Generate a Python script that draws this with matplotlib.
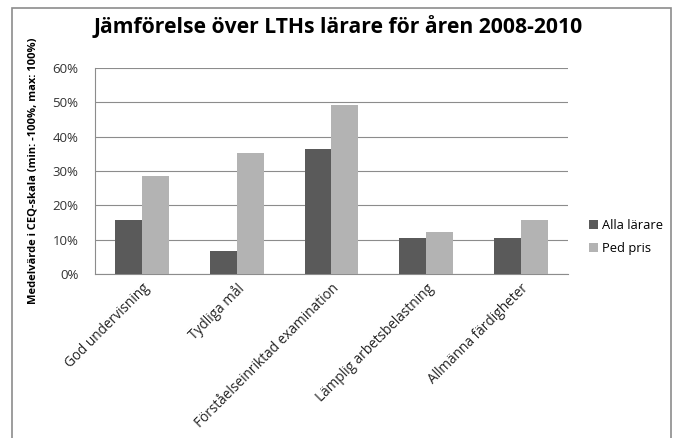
import numpy as np
import matplotlib.pyplot as plt
from matplotlib.patches import Rectangle

categories = ["God undervisning", "Tydliga mål", "Förståelseinriktad examination",
              "Lämplig arbetsbelastning", "Allmänna färdigheter"]
alla_larare = [15.8, 6.8, 36.3, 10.4, 10.6]
ped_pris = [28.5, 35.2, 49.3, 12.1, 15.6]
yticks = [0, 10, 20, 30, 40, 50, 60]

plt.rcParams['font.family'] = ['Open Sans', 'DejaVu Sans']

fig = plt.figure(figsize=(6.73, 4.38), dpi=100)
# outer chart frame
fig.patches.append(Rectangle((12 / 673, -0.01), 659 / 673, (438 - 8) / 438 + 0.01,
                             transform=fig.transFigure, fill=False,
                             edgecolor='#8c8c8c', linewidth=1.2))

ax = fig.add_axes([95 / 673, 1 - 274 / 438, (568 - 95) / 673, (274 - 68) / 438])

x = np.arange(len(categories))
w = 0.285
ax.bar(x - w / 2, alla_larare, w, color='#5a5a5a', label='Alla lärare', zorder=3)
ax.bar(x + w / 2, ped_pris, w, color='#b3b3b3', label='Ped pris', zorder=3)

ax.set_xlim(-0.5, len(categories) - 0.5)
ax.set_ylim(0, 60)
ax.set_yticks(yticks)
ax.set_yticklabels([f"{v}%" for v in yticks], fontsize=9.5, color='#333333')
ax.yaxis.grid(True, color='#8c8c8c', linewidth=0.8, zorder=0)
ax.tick_params(axis='y', length=0, pad=12)
ax.tick_params(axis='x', length=0, pad=5)

ax.set_xticks(x)
ax.set_xticklabels(categories, rotation=45, ha='right', rotation_mode='anchor',
                   fontsize=9.8, color='#222222')

for s in ['top', 'right']:
    ax.spines[s].set_visible(False)
ax.spines['left'].set_color('#8c8c8c')
ax.spines['bottom'].set_color('#8c8c8c')

ax.set_ylabel("Medelvärde i CEQ-skala (min: -100%, max: 100%)", fontsize=8,
              fontweight='bold', labelpad=10)

fig.text(338 / 673, 1 - 27 / 438, "Jämförelse över LTHs lärare för åren 2008-2010",
         ha='center', va='center', fontsize=15.2, fontweight='bold')

ax.legend(loc='center left', bbox_to_anchor=(1.02, 0.18), frameon=False,
          fontsize=9.3, handlelength=0.7, handleheight=0.7, handletextpad=0.3,
          labelspacing=0.8)

fig.savefig("out.png", dpi=100)
